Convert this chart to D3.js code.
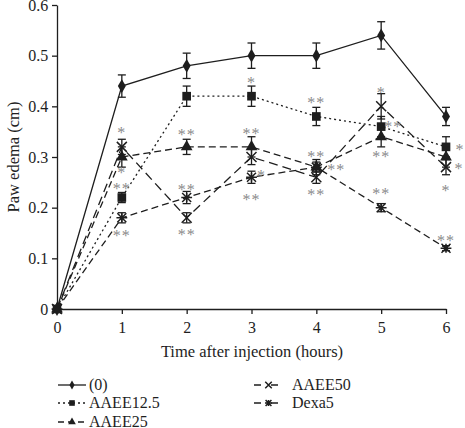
<!DOCTYPE html>
<html><head><meta charset="utf-8">
<script src="https://cdn.jsdelivr.net/npm/d3@7"></script>
<style>body{margin:0;background:#fff}svg{display:block}</style>
</head><body><svg id="c" width="465" height="428"></svg>
<script>
const hours = [0,1,2,3,4,5,6];
const xTicks = [0,1,2,3,4,5,6];
const yTicks = [0,0.1,0.2,0.3,0.4,0.5,0.6];
const seriesNames = ["(0)","AAEE12.5","AAEE25","AAEE50","Dexa5"];
const ctrlVals = [0,0.44,0.48,0.50,0.50,0.54,0.38];
const ctrlErr  = [0,0.022,0.025,0.025,0.025,0.027,0.018];
const a12Vals = [0,0.22,0.42,0.42,0.38,0.36,0.32];
const a12Err  = [0,0.01,0.02,0.02,0.018,0.02,0.02];
const a25Vals = [0,0.30,0.32,0.32,0.28,0.34,0.30];
const a25Err  = [0,0.02,0.015,0.02,0.015,0.02,0.02];
const a50Vals = [0,0.32,0.18,0.30,0.26,0.40,0.28];
const a50Err  = [0,0.015,0.01,0.015,0.012,0.025,0.015];
const dexVals = [0,0.18,0.22,0.26,0.28,0.20,0.12];
const dexErr  = [0,0.01,0.012,0.012,0.01,0.008,0.005];
// significance labels: hour, y-value of label centre, text, horizontal shift
const sigHours = [1,1,1,1, 2,2,2, 3,3,3,3, 4,4,4,4, 5,5,5,5, 6,6,6,6];
const sigVals  = [0.353,0.274,0.243,0.15, 0.349,0.241,0.152, 0.452,0.351,0.268,0.221, 0.412,0.306,0.28,0.231, 0.432,0.365,0.306,0.233, 0.32,0.282,0.239,0.14];
const sigText  = ["*","*","**","**", "**","**","**", "*","**","*","**", "**","**","**","**", "*","**","**","**", "*","*","*","**"];
const sigShift = [0,0,0,0, 0,0,0, 0,0,1,0, 0,0,2,0, 0,1.2,0,0, 1.4,1.3,0,0];

const svg = d3.select("#c");
const W=465,H=428, m={l:57,r:19,t:5,b:119};
const x = d3.scaleLinear().domain([0,6]).range([m.l, W-m.r]);
const y = d3.scaleLinear().domain([0,0.6]).range([H-m.b, m.t]);
const ink="#1e1e1e", font="Liberation Serif";

const gx = svg.append("g").attr("transform",`translate(0,${y(0)})`)
  .call(d3.axisBottom(x).tickValues(xTicks).tickFormat(d3.format("d")).tickSize(5).tickSizeOuter(0));
const gy = svg.append("g").attr("transform",`translate(${x(0)},0)`)
  .call(d3.axisLeft(y).tickValues(yTicks).tickFormat(d=>d===0?"0":d3.format(".1f")(d)).tickSize(5).tickSizeOuter(0));
[gx,gy].forEach(g=>{
  g.attr("font-family",font).attr("font-size",16);
  g.selectAll("path,line").attr("stroke",ink).attr("stroke-width",1.3);
  g.selectAll("text").attr("font-family",font).attr("font-size",16).attr("fill",ink);
});
gx.selectAll("text").attr("dy","1.0em");
gy.selectAll("text").attr("dx","-0.05em");

svg.append("text").attr("x",252).attr("y",357).attr("text-anchor","middle")
  .attr("font-family",font).attr("font-size",16.5).attr("fill",ink).text("Time after injection (hours)");
svg.append("text").attr("transform","translate(19,157) rotate(-90)").attr("text-anchor","middle")
  .attr("font-family",font).attr("font-size",16.5).attr("fill",ink).text("Paw edema (cm)");

const series = [
  {vals:ctrlVals, err:ctrlErr, dash:null, mk:"diamond"},
  {vals:a12Vals, err:a12Err, dash:"2,3", mk:"square"},
  {vals:a25Vals, err:a25Err, dash:"7,4", mk:"triangle"},
  {vals:a50Vals, err:a50Err, dash:"9,5", mk:"x"},
  {vals:dexVals, err:dexErr, dash:"7,4", mk:"star"},
];

function marker(g, type, s){
  if(type==="diamond") g.append("path").attr("d",d3.symbol(d3.symbolDiamond, 55*s*s)()).attr("fill",ink);
  else if(type==="square") g.append("path").attr("d",d3.symbol(d3.symbolSquare, 75*s*s)()).attr("fill",ink);
  else if(type==="triangle") g.append("path").attr("d",d3.symbol(d3.symbolTriangle, 60*s*s)()).attr("fill",ink);
  else if(type==="x"){ const r=5*s; g.append("path").attr("d",`M${-r},${-r}L${r},${r}M${-r},${r}L${r},${-r}`).attr("stroke",ink).attr("stroke-width",1.5);}
  else { const r=4.5*s; g.append("path").attr("d",`M${-r},${-r}L${r},${r}M${-r},${r}L${r},${-r}M${-r*1.2},0L${r*1.2},0M0,${-r}L0,${r}`).attr("stroke",ink).attr("stroke-width",1.5);}
}

const line = d3.line().x((d,i)=>x(hours[i])).y(d=>y(d));
series.forEach(s=>{
  svg.append("path").datum(s.vals).attr("d",line).attr("fill","none").attr("stroke",ink)
    .attr("stroke-width",1.3).attr("stroke-dasharray",s.dash);
});
series.forEach(s=>{
  s.vals.forEach((v,i)=>{
    const e=s.err[i];
    if(e>0){
      const g=svg.append("g").attr("stroke",ink).attr("stroke-width",1.3);
      g.append("line").attr("x1",x(hours[i])).attr("x2",x(hours[i])).attr("y1",y(v-e)).attr("y2",y(v+e));
      [v-e,v+e].forEach(c=>g.append("line").attr("x1",x(hours[i])-4).attr("x2",x(hours[i])+4).attr("y1",y(c)).attr("y2",y(c)));
    }
    const g=svg.append("g").attr("transform",`translate(${x(hours[i])},${y(v)})`);
    marker(g,s.mk,1);
  });
});

sigHours.forEach((h,i)=>{
  svg.append("text").attr("x",x(h)+sigShift[i]*10).attr("y",y(sigVals[i])+8)
    .attr("text-anchor","middle").attr("font-family",font).attr("font-size",16).attr("letter-spacing",1)
    .attr("fill","#8a8a8a").text(sigText[i]);
});

// legend
const legPos = [[58,385],[58,403],[58,422],[254,385],[254,403]];
seriesNames.forEach((n,i)=>{
  const [lx,ly]=legPos[i], s=series[i];
  const lw = i<3?28:29;
  svg.append("line").attr("x1",lx).attr("x2",lx+lw).attr("y1",ly).attr("y2",ly)
    .attr("stroke",ink).attr("stroke-width",1.3).attr("stroke-dasharray", i===0?null:(i===1?"2,3":(i===2?"6,4":"7,10")));
  const g=svg.append("g").attr("transform",`translate(${lx+lw/2},${ly})`);
  marker(g,s.mk,0.65);
  svg.append("text").attr("x",i<3?lx+31:lx+38).attr("y",ly+5).attr("font-family",font).attr("font-size",16)
    .attr("fill",ink).text(n);
});
</script></body></html>
